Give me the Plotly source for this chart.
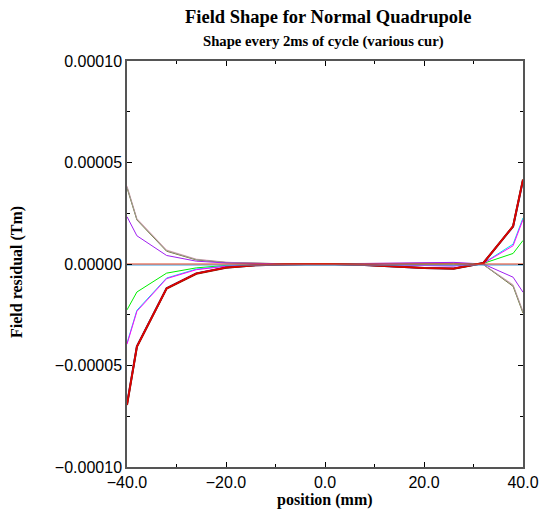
import plotly.graph_objects as go

# position (mm)
position = [-40, -38, -32, -26, -20, -14, -8, 0, 8, 14, 20, 26, 32, 38, 40]

# field residual (Tm) per current curve
upper_gray = [3.80e-5, 2.20e-5, 6.6e-6, 2.2e-6, 8e-7, 3e-7, 1e-7, 0, 2e-7, 4e-7, 6e-7, 5e-7, -3e-7, -1.06e-5, -2.37e-5]
upper_olive = [3.75e-5, 2.17e-5, 6.3e-6, 2.0e-6, 7e-7, 3e-7, 1e-7, 0, 2e-7, 4e-7, 5e-7, 4e-7, -3e-7, -1.10e-5, -2.42e-5]
upper_pink = [3.85e-5, 2.24e-5, 6.9e-6, 2.4e-6, 9e-7, 3e-7, 1e-7, 0, 3e-7, 5e-7, 7e-7, 6e-7, -2e-7, -1.02e-5, -2.33e-5]
purple = [2.33e-5, 1.39e-5, 4.2e-6, 1.4e-6, 5e-7, 2e-7, 1e-7, 0, 2e-7, 5e-7, 8e-7, 8e-7, 0, -6.5e-6, -1.39e-5]
green = [-2.26e-5, -1.38e-5, -4.5e-6, -1.9e-6, -7e-7, -3e-7, -1e-7, 0, -2e-7, -4e-7, -6e-7, -5e-7, 3e-7, 5.2e-6, 1.16e-5]
cyan = [-3.90e-5, -2.28e-5, -6.9e-6, -2.5e-6, -1.0e-6, -4e-7, -1e-7, 0, -3e-7, -6e-7, -1.0e-6, -9e-7, 4e-7, 9.8e-6, 2.27e-5]
magenta = [-3.95e-5, -2.33e-5, -7.2e-6, -2.8e-6, -1.1e-6, -4e-7, -1e-7, 0, -3e-7, -6e-7, -1.0e-6, -1.0e-6, 3e-7, 9.0e-6, 2.19e-5]
blue = [-6.90e-5, -4.05e-5, -1.19e-5, -4.6e-6, -1.7e-6, -6e-7, -2e-7, 0, -5e-7, -1.2e-6, -2.0e-6, -2.2e-6, 5e-7, 1.85e-5, 4.13e-5]
darkred = [-6.95e-5, -4.08e-5, -1.21e-5, -4.8e-6, -1.8e-6, -6e-7, -2e-7, 0, -5e-7, -1.2e-6, -2.0e-6, -2.3e-6, 5e-7, 1.86e-5, 4.16e-5]
red = [-6.93e-5, -4.07e-5, -1.20e-5, -4.7e-6, -1.7e-6, -6e-7, -2e-7, 0, -5e-7, -1.2e-6, -2.0e-6, -2.2e-6, 5e-7, 1.86e-5, 4.15e-5]
flat_red = [0] * len(position)
flat_cyan = [-5e-7] * len(position)

x_ticks = [-40, -20, 0, 20, 40]
x_minor = [-30, -10, 10, 30]
y_ticks = [-0.0001, -0.00005, 0, 0.00005, 0.0001]
y_minor = [-0.000075, -0.000025, 0.000025, 0.000075]

title_text = "Field Shape for Normal Quadrupole"
subtitle_text = "Shape every 2ms of cycle (various cur)"
x_title = "position (mm)"
y_title = "Field residual (Tm)"

series = [
    (upper_pink, "#e8a8c0", 1),
    (upper_olive, "#6a6a28", 1),
    (upper_gray, "#a0a098", 1),
    (purple, "#a020f0", 1),
    (green, "#00ee00", 1),
    (cyan, "#00e5ee", 1),
    (magenta, "#ff00ff", 1),
    (blue, "#3030a0", 2),
    (darkred, "#8b2000", 2),
    (red, "#e00000", 1.6),
    (flat_cyan, "#40a0e0", 1),
    (flat_red, "#e04020", 1),
]

fig = go.Figure()
for ys, col, w in series:
    fig.add_trace(go.Scatter(x=position, y=ys, mode="lines",
                             line=dict(color=col, width=w), showlegend=False,
                             hoverinfo="skip"))

tickfont = dict(family="Liberation Sans, Arial, sans-serif", size=16, color="black")
serif = "Liberation Serif, Times New Roman, serif"

L, R, T, B = 127, 18, 61, 43
W, H = 541, 510
pw, ph = W - L - R, H - T - B

def px_to_paper_y(py):
    return (H - B - py) / ph

def px_to_paper_x(px):
    return (px - L) / pw

fig.update_layout(
    width=W, height=H,
    margin=dict(l=L, r=R, t=T, b=B, autoexpand=False),
    paper_bgcolor="white", plot_bgcolor="white",
    xaxis=dict(
        range=[-40, 40], tickvals=x_ticks, tickformat=".1f",
        ticks="inside", ticklen=5, tickcolor="black", tickwidth=1,
        minor=dict(tickvals=x_minor, ticks="inside", ticklen=3, tickcolor="black"),
        showline=True, linecolor="#555555", linewidth=1.5, mirror="allticks",
        showgrid=False, zeroline=False, tickfont=tickfont, automargin=False,
    ),
    yaxis=dict(
        range=[-0.0001, 0.0001], tickvals=y_ticks, tickformat=".5f",
        ticks="inside", ticklen=5, tickcolor="black", tickwidth=1,
        minor=dict(tickvals=y_minor, ticks="inside", ticklen=3, tickcolor="black"),
        showline=True, linecolor="#555555", linewidth=1.5, mirror="allticks",
        showgrid=False, zeroline=False, tickfont=tickfont, automargin=False,
    ),
    annotations=[
        dict(text="<b>" + title_text + "</b>", xref="paper", yref="paper",
             x=px_to_paper_x(328), y=px_to_paper_y(17), xanchor="center", yanchor="middle",
             showarrow=False, font=dict(family=serif, size=18.5, color="black")),
        dict(text="<b>" + subtitle_text + "</b>", xref="paper", yref="paper",
             x=px_to_paper_x(323), y=px_to_paper_y(41), xanchor="center", yanchor="middle",
             showarrow=False, font=dict(family=serif, size=14.7, color="black")),
        dict(text="<b>" + x_title + "</b>", xref="paper", yref="paper",
             x=px_to_paper_x(325), y=px_to_paper_y(500), xanchor="center", yanchor="middle",
             showarrow=False, font=dict(family=serif, size=16, color="black")),
        dict(text="<b>" + y_title + "</b>", xref="paper", yref="paper",
             x=px_to_paper_x(17), y=px_to_paper_y(272), xanchor="center", yanchor="middle",
             textangle=-90, showarrow=False, font=dict(family=serif, size=16, color="black")),
    ],
)

fig.write_html("out.html", config={"displayModeBar": False},
               post_script="document.body.style.margin='0';document.body.style.overflow='hidden';")
